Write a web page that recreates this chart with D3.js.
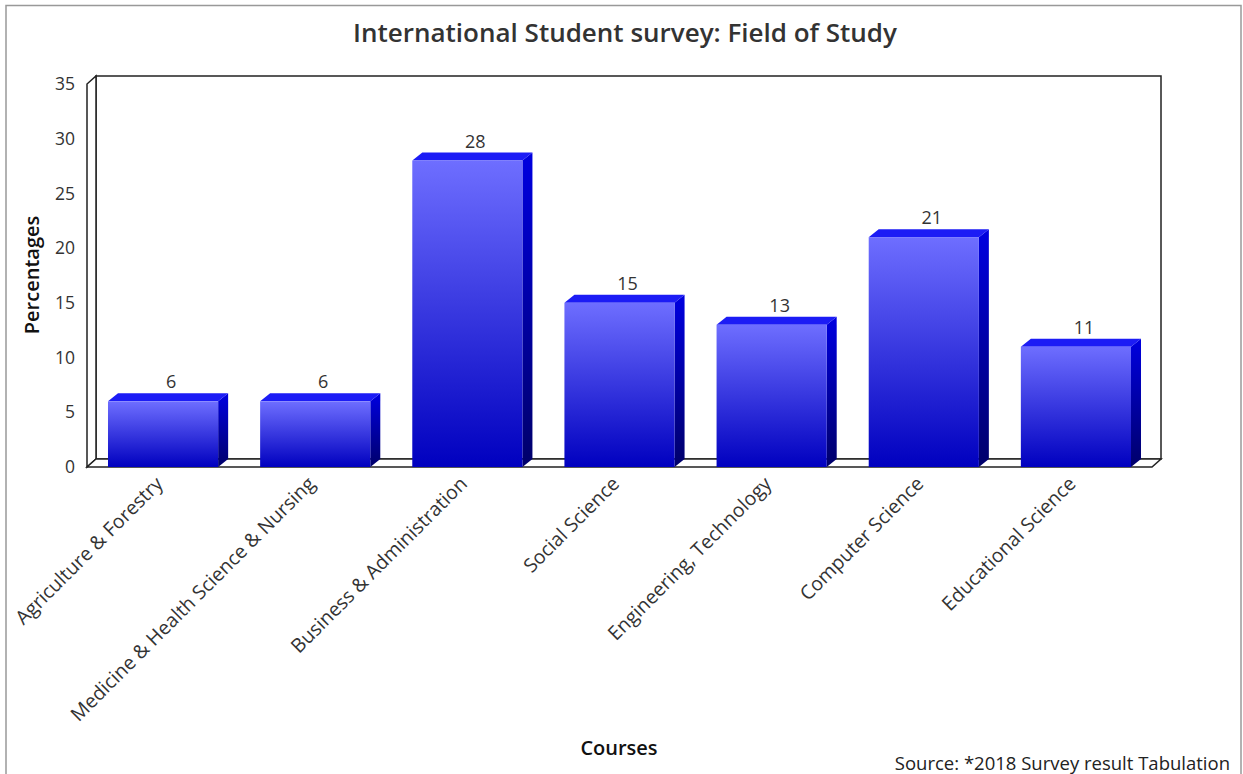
<!DOCTYPE html>
<html><head><meta charset="utf-8">
<script src="https://cdn.jsdelivr.net/npm/d3@7/dist/d3.min.js"></script>
<style>
html,body{margin:0;padding:0;background:#fff;}
text{font-family:"Open Sans",sans-serif;}
</style></head>
<body><svg id="c" width="1243" height="774"></svg>
<script>
const categories = ["Agriculture & Forestry","Medicine & Health Science & Nursing","Business & Administration","Social Science","Engineering, Technology","Computer Science","Educational Science"];
const values = [6,6,28,15,13,21,11];
const yTicks = [0,5,10,15,20,25,30,35];
const titleText = "International Student survey: Field of Study";
const xTitle = "Courses", yTitle = "Percentages";
const sourceText = "Source: *2018 Survey result Tabulation";

(function(){
const svg = d3.select("#c");
const pL = 87, pR = 1152, pB = 467, pT = 84;
const DX = 9, DY = -8;   // wall depth
const BX = 10, BY = -8;  // bar depth

// outer frame
svg.append("rect").attr("x",6).attr("y",5.5).attr("width",1235).attr("height",800)
  .attr("fill","none").attr("stroke","#999").attr("stroke-width",1.5);

const x = d3.scaleBand().domain(categories).range([pL,pR]).paddingInner(0.276).paddingOuter(0.138);
const y = d3.scaleLinear().domain([0,35]).range([pB,pT]);

const defs = svg.append("defs");
const gFront = defs.append("linearGradient").attr("id","gf").attr("x1",0).attr("y1",0).attr("x2",0).attr("y2",1);
gFront.append("stop").attr("offset","0%").attr("stop-color","#6e6eff");
gFront.append("stop").attr("offset","100%").attr("stop-color","#0000bf");
const gSide = defs.append("linearGradient").attr("id","gs").attr("x1",0).attr("y1",0).attr("x2",0).attr("y2",1);
gSide.append("stop").attr("offset","0%").attr("stop-color","#0000e0");
gSide.append("stop").attr("offset","100%").attr("stop-color","#00006a");

// walls
const wall = svg.append("g").attr("fill","none").attr("stroke","#222").attr("stroke-width",1.5);
wall.append("rect").attr("x",pL+DX).attr("y",pT+DY).attr("width",pR-pL).attr("height",pB-pT).attr("fill","#fff");
wall.append("path").attr("d",`M${pL},${pB}L${pL},${pT}L${pL+DX},${pT+DY}L${pL+DX},${pB+DY}Z`).attr("fill","#fff");
wall.append("path").attr("d",`M${pL},${pB}L${pR},${pB}L${pR+DX},${pB+DY}L${pL+DX},${pB+DY}Z`).attr("fill","#fff");

// y ticks
svg.append("g").selectAll("text").data(yTicks).join("text")
  .attr("x",75).attr("y",d=>y(d)).attr("dy","0.35em").attr("text-anchor","end")
  .attr("font-size",17.5).attr("fill","#333").text(d=>d);

// bars
const bars = svg.append("g").selectAll("g").data(values).join("g");
bars.each(function(v,i){
  const g = d3.select(this);
  const x0 = x(categories[i]), w = x.bandwidth(), yt = y(v), yb = y(0);
  g.append("path").attr("d",`M${x0+w},${yt}L${x0+w+BX},${yt+BY}L${x0+w+BX},${yb+BY}L${x0+w},${yb}Z`).attr("fill","url(#gs)");
  g.append("path").attr("d",`M${x0},${yt}L${x0+BX},${yt+BY}L${x0+w+BX},${yt+BY}L${x0+w},${yt}Z`).attr("fill","#1c1cf5");
  g.append("rect").attr("x",x0).attr("y",yt).attr("width",w).attr("height",yb-yt).attr("fill","url(#gf)");
  g.append("text").attr("x",x0+w/2+BX/2+3).attr("y",yt+BY-5).attr("text-anchor","middle")
    .attr("font-size",18).attr("fill","#333").text(v);
});

// x labels
svg.append("g").selectAll("text").data(categories).join("text")
  .attr("transform",d=>`translate(${x(d)+x.bandwidth()/2+1},${pB+18}) rotate(-45)`)
  .attr("text-anchor","end").attr("font-size",19.5).attr("fill","#333").text(d=>d);

// titles
svg.append("text").attr("x",625).attr("y",42).attr("text-anchor","middle")
  .attr("font-size",26).attr("font-weight",600).attr("fill","#333").text(titleText);
svg.append("text").attr("transform",`translate(39,275) rotate(-90)`).attr("text-anchor","middle")
  .attr("font-size",20).attr("font-weight",600).attr("fill","#111").text(yTitle);
svg.append("text").attr("x",619).attr("y",755).attr("text-anchor","middle")
  .attr("font-size",20).attr("font-weight",600).attr("fill","#111").text(xTitle);
svg.append("text").attr("x",1230).attr("y",770).attr("text-anchor","end")
  .attr("font-size",18.5).attr("fill","#222").text(sourceText);
})();
</script></body></html>
